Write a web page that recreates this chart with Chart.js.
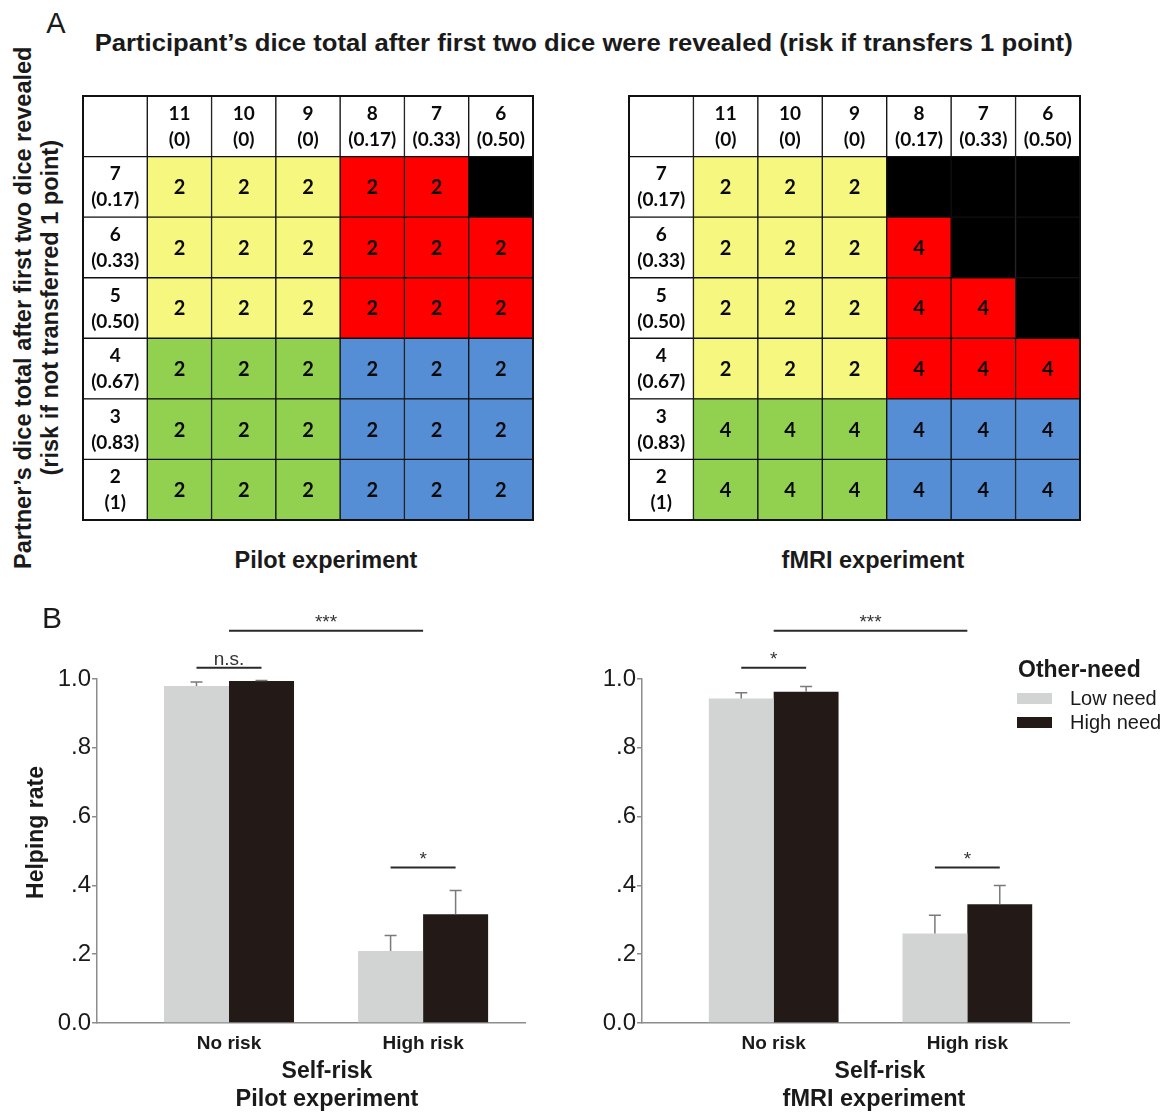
<!DOCTYPE html>
<html><head><meta charset="utf-8">
<script src="https://cdn.jsdelivr.net/npm/chart.js@4.4.1/dist/chart.umd.min.js"></script>
<style>
html,body{margin:0;padding:0;background:#fff;}
body{width:1166px;height:1112px;position:relative;overflow:hidden;font-family:'Liberation Sans',Arial,sans-serif;color:#1a1a1a;}
.t{position:absolute;white-space:nowrap;line-height:1;}
canvas{position:absolute;display:block;}
</style></head>
<body>
<canvas id="gridPilot" width="452" height="426" style="left:82px;top:95px"></canvas>
<canvas id="gridFmri" width="453" height="426" style="left:628px;top:95px"></canvas>
<canvas id="barPilot" width="560" height="512" style="left:0px;top:600px"></canvas>
<canvas id="barFmri" width="606" height="512" style="left:560px;top:600px"></canvas>
<script>
// ---------- Panel A data ----------
const colTotals = ['11','10','9','8','7','6'];
const colRisks  = ['(0)','(0)','(0)','(0.17)','(0.33)','(0.50)'];
const rowTotals = ['7','6','5','4','3','2'];
const rowRisks  = ['(0.17)','(0.33)','(0.50)','(0.67)','(0.83)','(1)'];
// condition codes: Y yellow, R red, G green, B blue, X excluded (black)
const pilotCond = [
  ['Y','Y','Y','R','R','X'],
  ['Y','Y','Y','R','R','R'],
  ['Y','Y','Y','R','R','R'],
  ['G','G','G','B','B','B'],
  ['G','G','G','B','B','B'],
  ['G','G','G','B','B','B']];
const pilotTrials = [
  [2,2,2,2,2,null],
  [2,2,2,2,2,2],
  [2,2,2,2,2,2],
  [2,2,2,2,2,2],
  [2,2,2,2,2,2],
  [2,2,2,2,2,2]];
const fmriCond = [
  ['Y','Y','Y','X','X','X'],
  ['Y','Y','Y','R','X','X'],
  ['Y','Y','Y','R','R','X'],
  ['Y','Y','Y','R','R','R'],
  ['G','G','G','B','B','B'],
  ['G','G','G','B','B','B']];
const fmriTrials = [
  [2,2,2,null,null,null],
  [2,2,2,4,null,null],
  [2,2,2,4,4,null],
  [2,2,2,4,4,4],
  [4,4,4,4,4,4],
  [4,4,4,4,4,4]];

// ---------- Panel B data ----------
const riskLabels = ['No risk','High risk'];
const needLabels = ['Low need','High need'];
const pilotLow = [0.980, 0.209];
const pilotLowErr = [0.011, 0.045];
const pilotHigh = [0.994, 0.316];
const pilotHighErr = [0.002, 0.069];
const fmriLow = [0.943, 0.260];
const fmriLowErr = [0.017, 0.053];
const fmriHigh = [0.963, 0.345];
const fmriHighErr = [0.015, 0.055];
const yTickValues = [0, 0.2, 0.4, 0.6, 0.8, 1.0];
const yTickLabels = ['0.0','.2','.4','.6','.8','1.0'];
// significance brackets: from/to = [categoryIndex, datasetIndex|null]
const pilotSig = [
  {from:[0,null], to:[1,null], level:1.14, text:'***'},
  {from:[0,0], to:[0,1], level:1.033, text:'n.s.'},
  {from:[1,0], to:[1,1], level:0.452, text:'*'}];
const fmriSig = [
  {from:[0,null], to:[1,null], level:1.14, text:'***'},
  {from:[0,0], to:[0,1], level:1.033, text:'*'},
  {from:[1,0], to:[1,1], level:0.452, text:'*'}];

const condColors = {Y:'#f5f77f', R:'#ff0000', G:'#92d050', B:'#558ed5', X:'#000000'};
const FONT = '"Liberation Sans", Arial, sans-serif';

// ---------- plugins ----------
const cellTextPlugin = {
  id:'cellText',
  afterDatasetsDraw(chart) {
    const ctx = chart.ctx;
    ctx.save();
    ctx.textAlign = 'center'; ctx.textBaseline = 'middle'; ctx.fillStyle = '#0a0a0a';
    chart.data.datasets.forEach((ds, di) => {
      chart.getDatasetMeta(di).data.forEach((el, ci) => {
        const lines = ds.cellText[ci];
        if (!lines || !lines.length) return;
        const cy = (el.y + el.base) / 2;
        if (lines.length === 1) {
          ctx.font = 'bold 20px Lato';
          ctx.fillText(lines[0], el.x, cy + 1);
        } else {
          ctx.font = 'bold 19px Lato';
          ctx.fillText(lines[0], el.x, cy - 12.5);
          ctx.fillText(lines[1], el.x, cy + 13.5);
        }
      });
    });
    const a = chart.chartArea;
    ctx.strokeStyle = '#111'; ctx.lineWidth = 2;
    ctx.strokeRect(a.left, a.top, a.right - a.left, a.bottom - a.top);
    ctx.restore();
  }
};

const errorBarPlugin = {
  id:'errorBars',
  afterDatasetsDraw(chart) {
    const ctx = chart.ctx, ys = chart.scales.y;
    ctx.save();
    ctx.strokeStyle = '#7a7a7a'; ctx.lineWidth = 1.5;
    chart.data.datasets.forEach((ds, di) => {
      chart.getDatasetMeta(di).data.forEach((el, i) => {
        const top = ys.getPixelForValue(ds.data[i] + ds.errors[i]);
        ctx.beginPath();
        ctx.moveTo(el.x, el.y); ctx.lineTo(el.x, top);
        ctx.moveTo(el.x - 6, top); ctx.lineTo(el.x + 6, top);
        ctx.stroke();
      });
    });
    ctx.restore();
  }
};

const sigPlugin = {
  id:'sig',
  afterDraw(chart, args, opts) {
    const ctx = chart.ctx, xs = chart.scales.x, ys = chart.scales.y;
    const px = r => r[1] == null ? xs.getPixelForValue(r[0]) : chart.getDatasetMeta(r[1]).data[r[0]].x;
    ctx.save();
    (opts.items || []).forEach(s => {
      const x1 = px(s.from), x2 = px(s.to), y = ys.getPixelForValue(s.level);
      ctx.strokeStyle = '#2a2a2a'; ctx.lineWidth = 2;
      ctx.beginPath(); ctx.moveTo(x1, y); ctx.lineTo(x2, y); ctx.stroke();
      ctx.fillStyle = '#333'; ctx.font = '19px ' + FONT;
      ctx.textAlign = 'center'; ctx.textBaseline = 'alphabetic';
      ctx.fillText(s.text, (x1 + x2) / 2, y - 3);
    });
    ctx.restore();
  }
};

const needLegendPlugin = {
  id:'needLegend',
  afterDraw(chart, args, opts) {
    if (!opts || !opts.show) return;
    const ctx = chart.ctx;
    ctx.save();
    ctx.textAlign = 'left'; ctx.textBaseline = 'alphabetic';
    ctx.fillStyle = '#1a1a1a'; ctx.font = 'bold 23px ' + FONT;
    ctx.fillText(opts.title, opts.x + 1, opts.titleBaseline);
    chart.data.datasets.forEach((ds, i) => {
      const y = opts.firstBox + i * opts.step;
      ctx.fillStyle = ds.backgroundColor; ctx.fillRect(opts.x, y, 35, 11);
      ctx.fillStyle = '#1a1a1a'; ctx.font = '20px ' + FONT;
      ctx.fillText(ds.label, opts.x + 53, y + 12);
    });
    ctx.restore();
  }
};

// ---------- grid (panel A) ----------
function drawGrid(id, cond, trials) {
  const labels = [''].concat(colTotals);
  const datasets = [];
  for (let r = rowTotals.length - 1; r >= -1; r--) {
    const bg = [], txt = [];
    for (let c = -1; c < colTotals.length; c++) {
      if (r < 0 || c < 0) {
        bg.push('#ffffff');
        txt.push(r < 0 && c < 0 ? [] : (r < 0 ? [colTotals[c], colRisks[c]] : [rowTotals[r], rowRisks[r]]));
      } else {
        bg.push(condColors[cond[r][c]]);
        txt.push(trials[r][c] == null ? [] : [String(trials[r][c])]);
      }
    }
    datasets.push({
      label: r < 0 ? 'header' : rowTotals[r],
      data: labels.map(() => 1),
      backgroundColor: bg, cellText: txt,
      borderColor: '#111', borderWidth: 1, borderSkipped: false,
      categoryPercentage: 1, barPercentage: 1
    });
  }
  new Chart(document.getElementById(id), {
    type: 'bar',
    data: {labels, datasets},
    options: {
      responsive: false, animation: false,
      layout: {padding: 1},
      plugins: {legend: {display: false}, tooltip: {enabled: false}},
      scales: {
        x: {display: false, stacked: true},
        y: {display: false, stacked: true, min: 0, max: 7}
      }
    },
    plugins: [cellTextPlugin]
  });
}

// ---------- bars (panel B) ----------
function drawBars(id, low, lowErr, high, highErr, sig, axisWidth, padRight, legend) {
  new Chart(document.getElementById(id), {
    type: 'bar',
    data: {labels: riskLabels, datasets: [
      {label: needLabels[0], data: low, errors: lowErr, backgroundColor: '#d2d4d3'},
      {label: needLabels[1], data: high, errors: highErr, backgroundColor: '#231a18'}]},
    options: {
      responsive: false, animation: false,
      layout: {padding: {top: 79, right: padRight, left: 0, bottom: 0}},
      datasets: {bar: {categoryPercentage: 0.67, barPercentage: 1, borderWidth: 0}},
      plugins: {legend: {display: false}, tooltip: {enabled: false}, sig: {items: sig}, needLegend: legend},
      scales: {
        x: {
          afterBuildTicks(s) { s._startValue = -0.68; s._valueRange = 2.205; },
          afterFit(s) { s.height = 89; },
          grid: {display: false, drawTicks: false},
          border: {display: true, color: '#8c8c8c', width: 1.5},
          ticks: {color: '#1a1a1a', padding: 9, font: {family: FONT, size: 19, weight: 'bold'}}
        },
        y: {
          min: 0, max: 1,
          afterFit(s) { s.width = axisWidth; },
          afterBuildTicks(s) { s.ticks = yTickValues.map(v => ({value: v})); },
          ticks: {callback: (v, i) => yTickLabels[i], color: '#1a1a1a', padding: 1, font: {family: FONT, size: 24}},
          grid: {drawOnChartArea: false, drawTicks: true, tickLength: 5, color: '#8c8c8c', lineWidth: 1.5},
          border: {color: '#8c8c8c', width: 1.5}
        }
      }
    },
    plugins: [errorBarPlugin, sigPlugin, needLegendPlugin]
  });
}

drawGrid('gridPilot', pilotCond, pilotTrials);
drawGrid('gridFmri', fmriCond, fmriTrials);
drawBars('barPilot', pilotLow, pilotLowErr, pilotHigh, pilotHighErr, pilotSig, 97, 35, {show: false});
drawBars('barFmri', fmriLow, fmriLowErr, fmriHigh, fmriHighErr, fmriSig, 82, 97,
  {show: true, title: 'Other-need', x: 457, titleBaseline: 77, firstBox: 93, step: 24});

// ---------- text ----------
function addText(str, x, baseline, size, weight, opt) {
  opt = opt || {};
  const d = document.createElement('div');
  d.className = 't'; d.textContent = str;
  d.style.fontSize = size + 'px'; d.style.fontWeight = weight;
  document.body.appendChild(d);
  const w = d.getBoundingClientRect().width;
  const sx = opt.width ? opt.width / w : 1;
  if (opt.rotate) {
    d.style.left = (x - w / 2) + 'px';
    d.style.top = (baseline - size / 2) + 'px';
    d.style.transform = 'rotate(-90deg) scaleX(' + sx + ')';
  } else {
    d.style.left = (x - w / 2) + 'px';
    d.style.top = (baseline - 0.8465 * size) + 'px';
    if (sx !== 1) d.style.transform = 'scaleX(' + sx + ')';
  }
}
addText('A', 56, 34, 29, 'normal');
addText('Participant\u2019s dice total after first two dice were revealed (risk if transfers 1 point)', 584, 51, 24, 'bold', {width: 978});
addText('Partner\u2019s dice total after first two dice revealed', 24, 308, 23.5, 'bold', {rotate: true});
addText('(risk if not transferred 1 point)', 51, 308, 23.5, 'bold', {rotate: true});
addText('Pilot experiment', 326, 569, 23.5, 'bold');
addText('fMRI experiment', 873, 569, 23.5, 'bold');
addText('B', 52, 628, 30, 'normal');
addText('Helping rate', 35, 832, 23, 'bold', {rotate: true});
addText('Self-risk', 327, 1078, 23, 'bold');
addText('Pilot experiment', 327, 1107, 23.5, 'bold');
addText('Self-risk', 880, 1078, 23, 'bold');
addText('fMRI experiment', 874, 1107, 23.5, 'bold');
</script>
</body></html>
